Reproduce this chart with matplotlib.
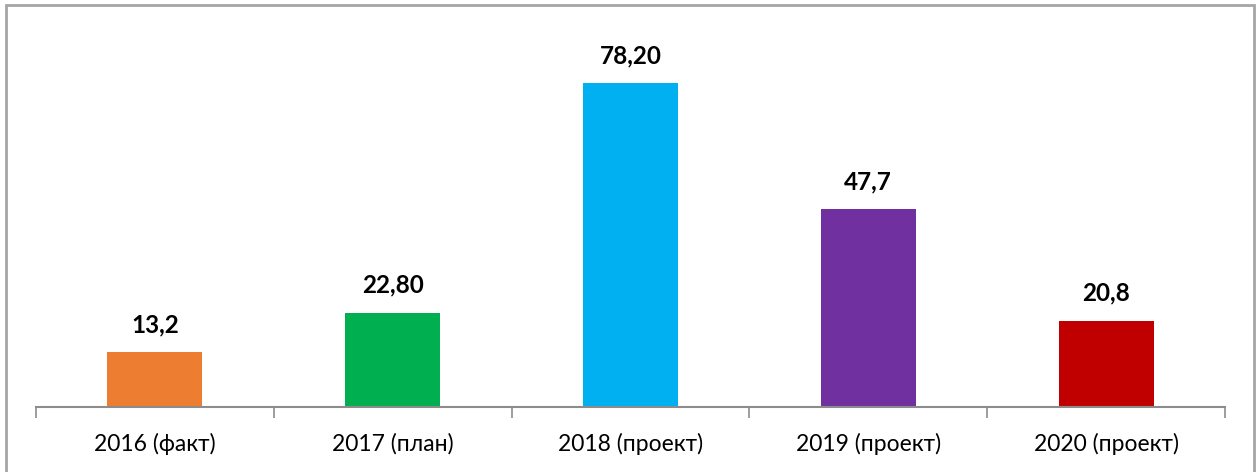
import matplotlib
matplotlib.use("Agg")
import matplotlib.pyplot as plt
from matplotlib.patches import Rectangle

categories = ["2016 (факт)", "2017 (план)", "2018 (проект)", "2019 (проект)", "2020 (проект)"]
values = [13.2, 22.80, 78.20, 47.7, 20.8]
value_labels = ["13,2", "22,80", "78,20", "47,7", "20,8"]
colors = ["#ed7d31", "#00b050", "#00b0f0", "#7030a0", "#c00000"]

plt.rcParams['font.family'] = ['Lato', 'DejaVu Sans']

fig = plt.figure(figsize=(12.59, 4.72), dpi=100)
# outer chart border (bottom edge falls outside the picture)
fig.patches.append(Rectangle((5.5 / 1259, -0.05), 1248 / 1259, 1.05 - 4.5 / 472,
                             transform=fig.transFigure, fill=False,
                             edgecolor="#a6a6a6", linewidth=2))

ax = fig.add_axes([36 / 1259, 65 / 472, 1189 / 1259, 387 / 472])
x = list(range(len(categories)))
ax.bar(x, values, width=0.40, color=colors)
for xi, v, lab in zip(x, values, value_labels):
    ax.annotate(lab, (xi, v), xytext=(0, 11.5), textcoords="offset points",
                ha="center", va="bottom", fontsize=17.5, fontweight="bold")

ax.set_xlim(-0.5, len(categories) - 0.5)
ax.set_ylim(0, 93.4)
ax.set_yticks([])
for s in ["top", "right", "left"]:
    ax.spines[s].set_visible(False)
ax.spines["bottom"].set_color("#8c8c8c")
ax.spines["bottom"].set_linewidth(1.5)

ax.set_xticks([i - 0.5 for i in range(len(categories) + 1)], minor=False)
ax.set_xticklabels([])
ax.tick_params(axis="x", which="major", length=8, width=1.2, color="#8c8c8c", direction="out")
ax.set_xticks(x, minor=True)
ax.set_xticklabels(categories, minor=True, fontsize=16.5)
ax.tick_params(axis="x", which="minor", length=0, pad=19)

fig.savefig("out.png", dpi=100)
